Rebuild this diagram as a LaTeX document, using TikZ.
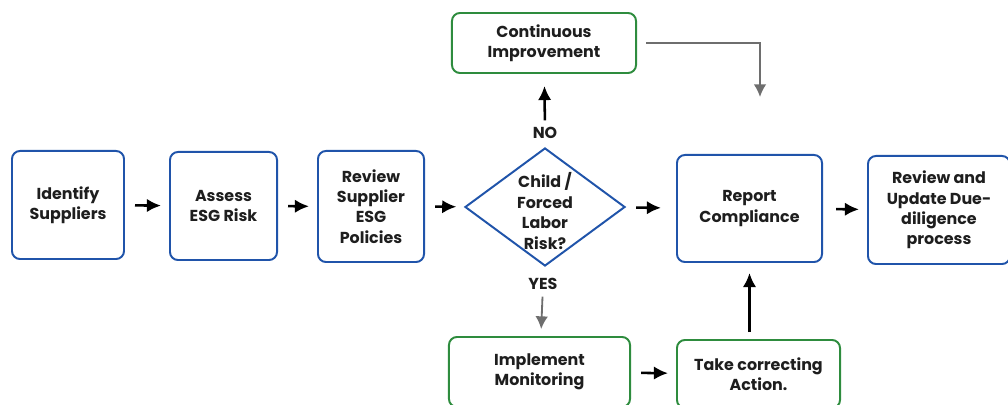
\documentclass[tikz,border=0pt]{standalone}
\usepackage{fontspec}
\setmainfont{Poppins}
\usetikzlibrary{shapes.geometric}
\usetikzlibrary{arrows.meta}
\tikzset{>={Latex[length=10pt, width=9.5pt]}}
\definecolor{boxblue}{RGB}{32,84,170}
\definecolor{boxgreen}{RGB}{46,140,62}
\definecolor{arrowgray}{RGB}{110,110,110}
\definecolor{textdark}{RGB}{30,30,30}

\begin{document}
\begin{tikzpicture}[x=0.025cm, y=-0.025cm]
\tikzset{boxtext/.style={align=center, text=textdark, font=\fontsize{11.3}{14.5}\selectfont\bfseries}}
\tikzset{bluebox/.style={boxtext, draw=boxblue, line width=1.4pt, rounded corners=0.2cm, inner sep=0pt}}
\tikzset{greenbox/.style={bluebox, draw=boxgreen}}
\tikzset{flow/.style={->, line width=1.8pt, shorten <=0.25cm, shorten >=0.2cm}}
\tikzset{grayflow/.style={-{Latex[length=9pt, width=9pt]}, draw=arrowgray, line width=1.3pt}}
    \useasboundingbox (0,0) rectangle (1008,405);

    \node[bluebox, minimum width=2.8cm, minimum height=2.7cm] (ident) at (68,205) {Identify\\Suppliers};
    \node[bluebox, minimum width=2.675cm, minimum height=2.7cm] (assess) at (223.5,206) {Assess\\ESG Risk};
    \node[bluebox, minimum width=2.65cm, minimum height=2.775cm] (review) at (371,206.5) {Review\\Supplier\\ESG\\Policies};
    \node[diamond, draw=boxblue, line width=1.4pt, inner sep=0pt, minimum width=4cm, minimum height=2.95cm,
          label={[boxtext, yshift=-0.1cm]center:{Child /\\Forced\\Labor\\Risk?}}] (risk) at (545,207) {};
    \node[bluebox, minimum width=3.625cm, minimum height=2.675cm] (report) at (749.5,208.5) {Report\\Compliance};
    \node[bluebox, minimum width=3.55cm, minimum height=2.7cm] (update) at (939,210) {Review and\\Update Due-\\diligence\\process};
% % % % % % % % % % % % % % % % % % %
    \node[greenbox, minimum width=4.6cm, minimum height=1.5cm] (cont) at (544,43) {Continuous\\Improvement};
    \node[greenbox, minimum width=4.525cm, minimum height=1.75cm] (impl) at (539.5,372) {Implement\\Monitoring};
    \node[greenbox, minimum width=4.075cm, minimum height=1.7cm] (take) at (758.5,374) {Take correcting\\Action.};

    \node[boxtext] (nolab) at (545,133) {NO};
    \node[boxtext] (yeslab) at (543,284) {YES};
    \coordinate (contend) at (760,97);
% % % % % % % % % % % % % % % % % % %
    \draw[flow] (ident) -- (assess);
    \draw[flow] (assess) -- (review);
    \draw[flow] (review) -- (risk);
    \draw[flow, shorten <=0.275cm, shorten >=0.375cm] (risk) -- (report);
    \draw[flow, shorten <=0.325cm] (report) -- (update);
    \draw[flow, shorten <=0.05cm, shorten >=0.3cm] (nolab) -- (cont);
    \draw[flow] (impl) -- (take);
    \draw[flow, shorten <=0.175cm, shorten >=0.25cm] (take.north -| report.south) -- (report.south);

    \draw[grayflow, shorten <=0.05cm, shorten >=0.175cm] (yeslab) -- (impl);
    \draw[grayflow, shorten <=0.225cm] (cont.east) -| (contend);
\end{tikzpicture}
\end{document}
